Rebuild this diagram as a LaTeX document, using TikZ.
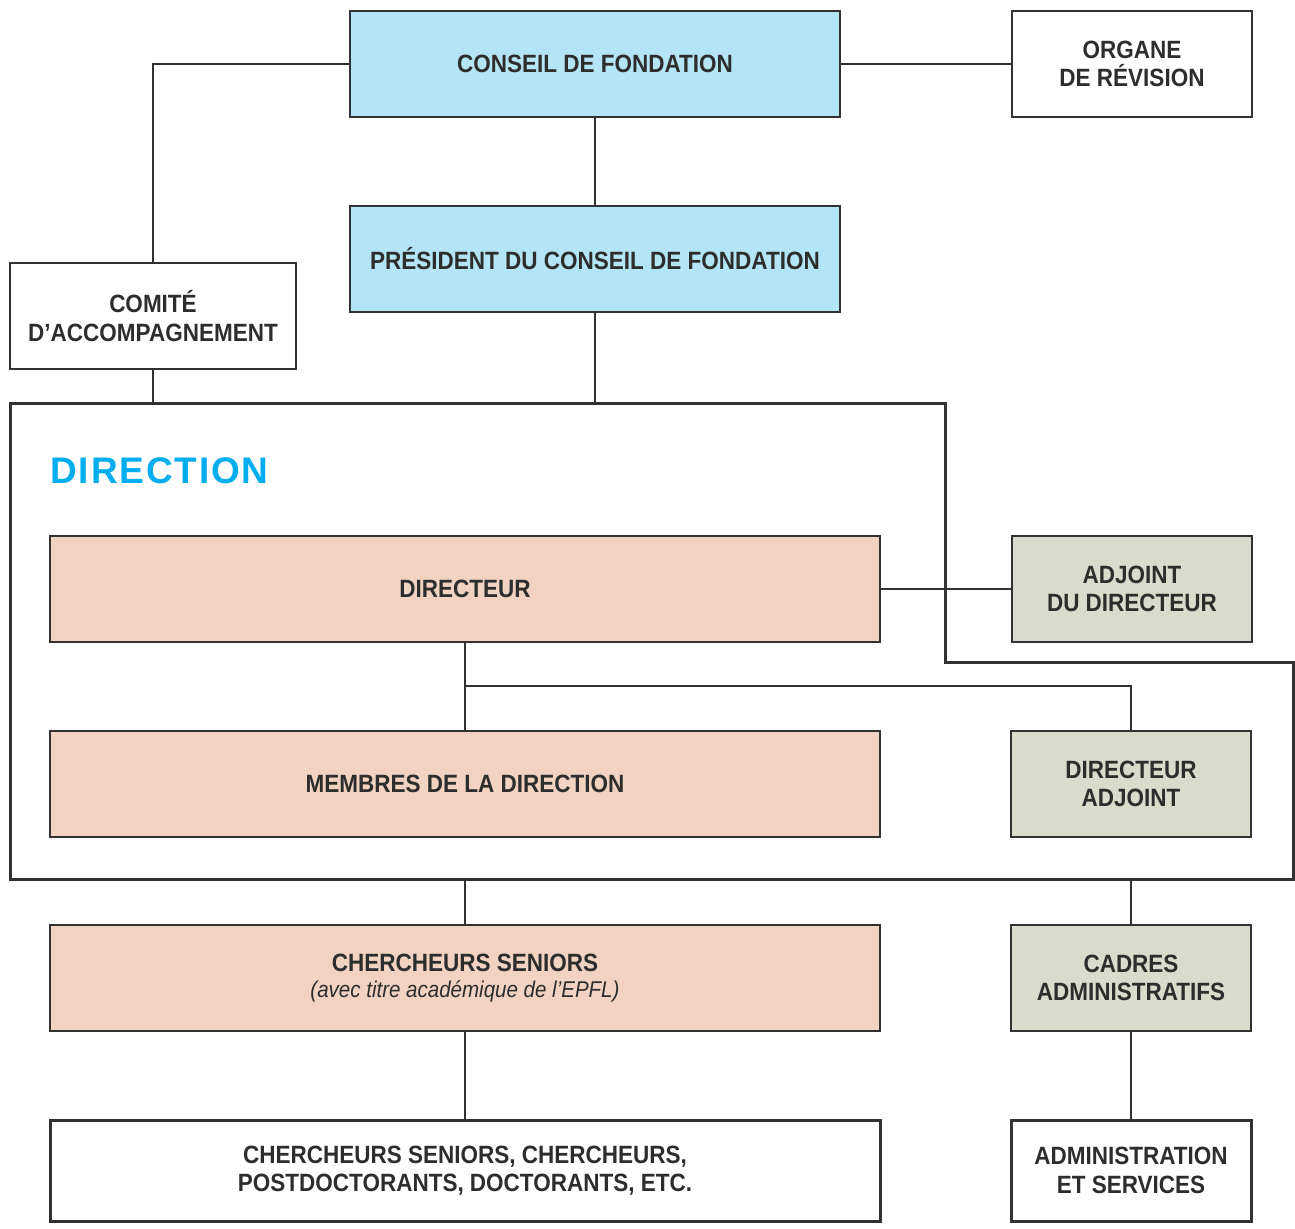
\documentclass[tikz,border=0pt]{standalone}
\usepackage{fontspec}
\setmainfont{Liberation Sans}[FakeStretch=0.9]
\newfontfamily\dirfont{Liberation Sans}[LetterSpace=5]
\definecolor{cblue}{RGB}{179,229,247}
\definecolor{cpeach}{RGB}{242,210,192}
\definecolor{cgrey}{RGB}{217,219,205}
\definecolor{ctext}{RGB}{45,45,45}
\definecolor{cline}{RGB}{50,50,50}
\definecolor{ctitle}{RGB}{0,174,239}
\tikzset{
  box/.style={draw=cline, line width=0.6pt, minimum height=53pt, inner sep=0pt, align=center,
    text=ctext, font=\bfseries\fontsize{12.5}{14.2}\selectfont},
  wide/.style={box, minimum width=415pt},
  narrow/.style={box, minimum width=120pt},
  blue/.style={fill=cblue},
  peach/.style={fill=cpeach},
  grey/.style={fill=cgrey},
  heavy/.style={line width=1.5pt, minimum height=50.5pt},
  conn/.style={draw=cline, line width=1.2pt},
  outline/.style={draw=cline, line width=1.5pt}
}
\begin{document}
\begin{tikzpicture}[x=0.5pt,y=-0.5pt]
\useasboundingbox (0,0) rectangle (1295,1229);
% nodes
\node[box, blue, minimum width=245pt] (cf) at (595,64) {CONSEIL DE FONDATION};
\node[narrow] (org) at (1132,64) {ORGANE\\DE RÉVISION};
\node[box, blue, minimum width=245pt] (pres) at (595,259) {PRÉSIDENT DU CONSEIL DE FONDATION};
\node[box, minimum width=143pt] (com) at (153,316) {COMITÉ\\D’ACCOMPAGNEMENT};
% direction outline
\draw[outline] (10,404) -- (945,404) -- (945,662) -- (1293,662) -- (1293,879) -- (10,879) -- cycle;
\coordinate (dtop) at (0,404);
\coordinate (dbot) at (0,879);
\node[anchor=base west, inner sep=0pt, text=ctitle, font=\dirfont\bfseries\fontsize{18.5}{20}\selectfont] (dirtitle) at (50,484) {DIRECTION};
\node[wide, peach] (dir) at (465,589) {DIRECTEUR};
\node[narrow, grey] (adj) at (1132,589) {ADJOINT\\DU DIRECTEUR};
\node[wide, peach] (mem) at (465,784) {MEMBRES DE LA DIRECTION};
\node[narrow, grey] (da) at (1131,784) {DIRECTEUR\\ADJOINT};
\node[wide, peach] (cs) at (465,978) {CHERCHEURS SENIORS\\[-1pt]{\mdseries\itshape\fontsize{11.4}{14}\selectfont (avec titre académique de l’EPFL)}};
\node[narrow, grey] (cad) at (1131,978) {CADRES\\ADMINISTRATIFS};
\node[wide, heavy] (cher) at (465,1170.5) {CHERCHEURS SENIORS, CHERCHEURS,\\POSTDOCTORANTS, DOCTORANTS, ETC.};
\node[narrow, heavy] (adm) at (1131,1170.5) {ADMINISTRATION\\ET SERVICES};
% connectors
\draw[conn] (cf.west) -| (com.north);
\draw[conn] (cf.east) -- (org.west);
\draw[conn] (cf.south) -- (pres.north);
\draw[conn] (pres.south) -- (pres.south |- dtop);
\draw[conn] (com.south) -- (com.south |- dtop);
\draw[conn] (dir.east) -- (adj.west);
\draw[conn] (dir.south) -- (mem.north);
\coordinate (br) at (465,686);
\draw[conn] (br) -| (da.north);
\draw[conn] (mem.south |- dbot) -- (cs.north);
\draw[conn] (da.south |- dbot) -- (cad.north);
\draw[conn] (cs.south) -- (cher.north);
\draw[conn] (cad.south) -- (adm.north);
\end{tikzpicture}
\end{document}
